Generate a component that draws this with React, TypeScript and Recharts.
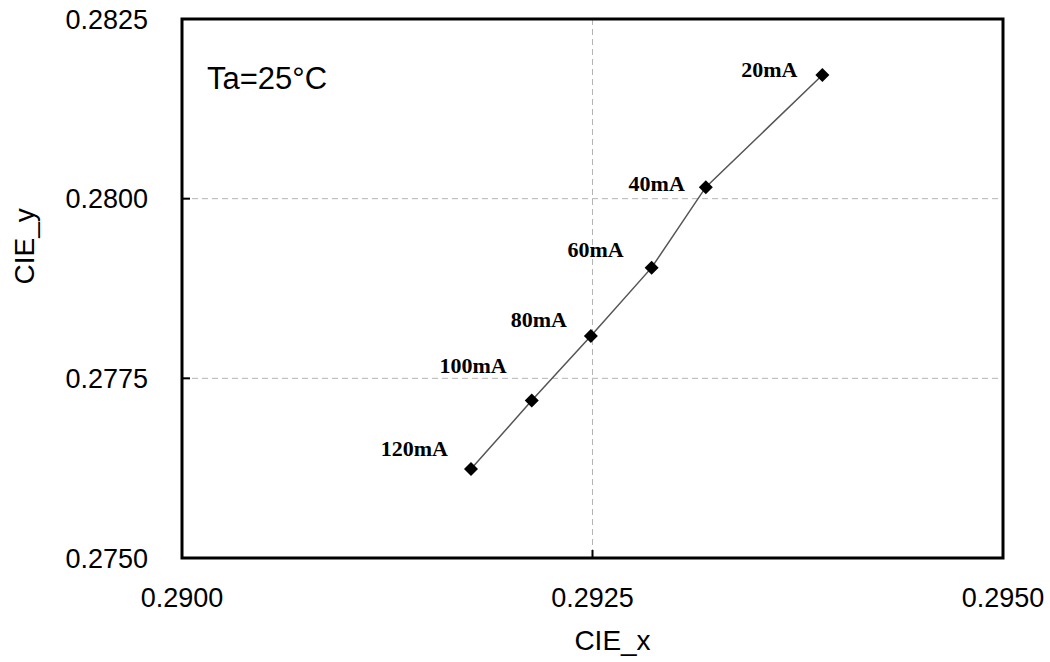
import React from 'react';
import {
  CartesianGrid,
  ReferenceArea,
  Scatter,
  ScatterChart,
  XAxis,
  YAxis,
} from 'recharts';

// Chromaticity drift with drive current
const CURRENTS = ['20mA', '40mA', '60mA', '80mA', '100mA', '120mA'];
const CIE_X = [0.2939, 0.29319, 0.29286, 0.29249, 0.29213, 0.29176];
const CIE_Y = [0.28172, 0.28016, 0.27904, 0.27809, 0.27719, 0.27624];

const X_TICKS = [0.29, 0.2925, 0.295];
const Y_TICKS = [0.275, 0.2775, 0.28, 0.2825];

// where each current label sits relative to its marker
const LABEL_DX = [-25, -21, -28, -24, -25, -23];
const LABEL_DY = [-6, -4, -18, -16, -35, -20];

const SANS = 'Arial, "Liberation Sans", sans-serif';
const SERIF = '"Times New Roman", "Liberation Serif", serif';

interface Point {
  x: number;
  y: number;
  label: string;
}

const points: Point[] = CURRENTS.map((label, i) => ({ x: CIE_X[i], y: CIE_Y[i], label }));

function DiamondDot(props: { cx?: number; cy?: number; payload?: Point }) {
  const { cx = 0, cy = 0, payload } = props;
  if (!payload) return null;
  const i = CURRENTS.indexOf(payload.label);
  const r = 7;
  return (
    <g>
      <polygon
        points={`${cx},${cy - r} ${cx + r},${cy} ${cx},${cy + r} ${cx - r},${cy}`}
        fill="#000"
      />
      <text
        x={cx + LABEL_DX[i]}
        y={cy + LABEL_DY[i]}
        textAnchor="end"
        dominantBaseline="central"
        fontFamily={SERIF}
        fontWeight="bold"
        fontSize={22}
        fill="#000"
      >
        {payload.label}
      </text>
    </g>
  );
}

export default function App() {
  return (
    <div style={{ position: 'relative', width: 1050, height: 662, background: '#fff' }}>
      <style>{'body{margin:0}'}</style>
      <ScatterChart width={1050} height={662} margin={{ top: 19, right: 47, bottom: 0, left: 0 }}>
        <CartesianGrid strokeDasharray="6 4" stroke="#b4b4b4" strokeWidth={1} />
        <XAxis
          type="number"
          dataKey="x"
          domain={[0.29, 0.295]}
          ticks={X_TICKS}
          tickFormatter={(v: number) => v.toFixed(4)}
          height={104}
          axisLine={false}
          tickLine={{ stroke: '#000', strokeWidth: 2 }}
          tickSize={-8}
          tickMargin={38}
          tick={{ fill: '#000', fontSize: 27, fontFamily: SANS }}
          label={{ value: 'CIE_x', position: 'insideBottom', offset: 12, dx: 20, fill: '#000', fontSize: 28, fontFamily: SANS }}
        />
        <YAxis
          type="number"
          dataKey="y"
          domain={[0.275, 0.2825]}
          ticks={Y_TICKS}
          tickFormatter={(v: number) => v.toFixed(4)}
          width={182}
          axisLine={false}
          tickLine={{ stroke: '#000', strokeWidth: 2 }}
          tickSize={-8}
          tickMargin={42}
          tick={{ fill: '#000', fontSize: 27, fontFamily: SANS }}
          label={{ value: 'CIE_y', angle: -90, position: 'insideLeft', offset: 24, dy: -4, fill: '#000', fontSize: 28, fontFamily: SANS }}
        />
        <ReferenceArea x1={0.29} x2={0.295} y1={0.275} y2={0.2825} fill="none" stroke="#000" strokeWidth={3} ifOverflow="visible" />
        <Scatter
          data={points}
          line={{ stroke: '#555', strokeWidth: 1.5 }}
          shape={DiamondDot}
          isAnimationActive={false}
        />
      </ScatterChart>
      <svg width={1050} height={662} style={{ position: 'absolute', left: 0, top: 0, pointerEvents: 'none' }}>
        <text x={207} y={89} fontFamily={SANS} fontSize={31} fill="#000">Ta=25°C</text>
      </svg>
    </div>
  );
}
